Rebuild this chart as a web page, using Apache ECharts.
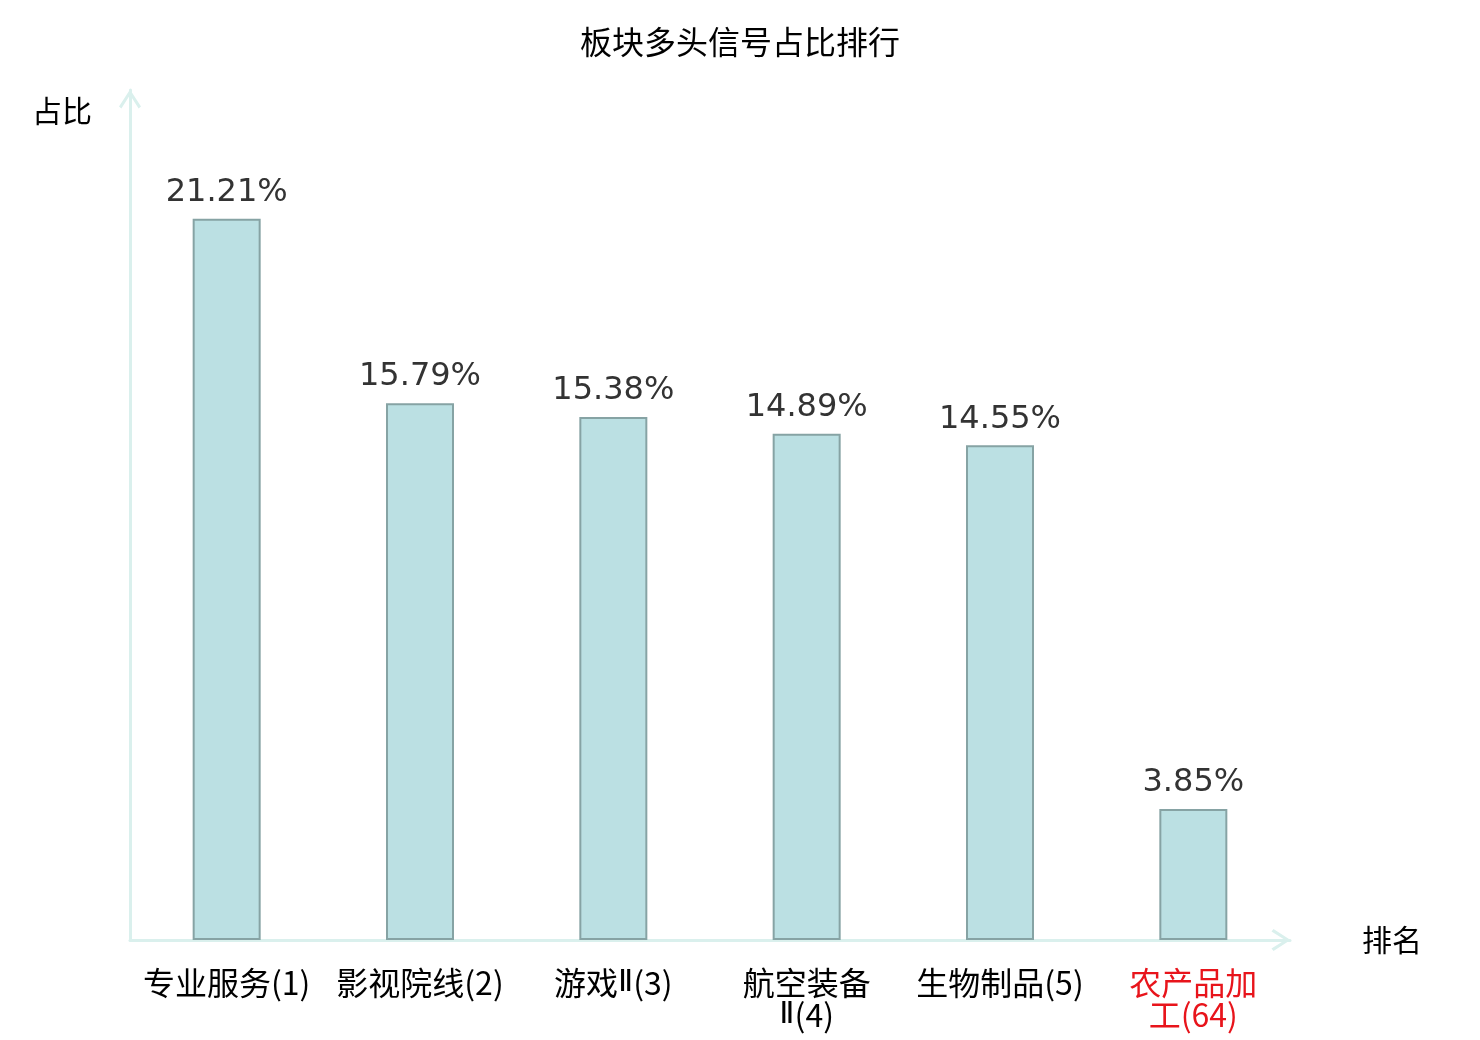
<!DOCTYPE html>
<html>
<head>
<meta charset="utf-8">
<script src="https://cdn.jsdelivr.net/npm/echarts@6/dist/echarts.min.js"></script>
<style>
html, body { margin: 0; padding: 0; background: #fff; }
#chart { width: 1480px; height: 1040px; }
</style>
</head>
<body>
<div id="chart"></div>
<script>
// 板块排名数据
var categories = ['专业服务(1)', '影视院线(2)', '游戏Ⅱ(3)', '航空装备Ⅱ(4)', '生物制品(5)', '农产品加工(64)'];
var ratios = [21.21, 15.79, 15.38, 14.89, 14.55, 3.85];
var highlightIndex = 5;

var cjkFont = '"Noto Sans CJK SC", sans-serif';
var axisColor = '#daf0ed';
// 空心箭头
var chevron = 'path://M11,0 L22,17 L19.6,19 L11,5.4 L2.4,19 L0,17 Z';

// 名字太长时, 4个字后换行
function wrapName(value) {
    var s = value.length > 7 ? value.slice(0, 4) + '\n' + value.slice(4) : value;
    return s.replace(/Ⅱ/g, '{r|Ⅱ}');
}

var chart = echarts.init(document.getElementById('chart'));
var option = {
    backgroundColor: '#fff',
    animation: false,
    title: {
        text: '板块多头信号占比排行',
        left: 'center',
        top: 21,
        textStyle: {fontFamily: cjkFont, fontSize: 32, fontWeight: 'normal', color: '#000'}
    },
    grid: {left: 130, right: 190, top: 90, bottom: 100},
    xAxis: {
        type: 'category',
        data: categories,
        name: '排名',
        nameLocation: 'end',
        nameGap: 72,
        nameTextStyle: {fontFamily: cjkFont, fontSize: 30, color: '#000'},
        axisLine: {
            lineStyle: {color: axisColor, width: 3},
            symbol: ['none', chevron],
            symbolSize: [22, 19],
            symbolOffset: [0, -9]
        },
        axisTick: {show: false},
        axisLabel: {
            interval: 0,
            margin: 27,
            lineHeight: 32,
            fontFamily: cjkFont,
            fontSize: 32,
            color: function(value, index) {
                return index === highlightIndex ? '#e8141b' : '#000';
            },
            formatter: wrapName,
            rich: {
                r: {fontFamily: '"DejaVu Sans", sans-serif', fontSize: 31, lineHeight: 32}
            }
        }
    },
    yAxis: {
        type: 'value',
        min: 0,
        max: 25,
        name: '占比',
        nameLocation: 'end',
        nameGap: -6,
        nameTextStyle: {
            fontFamily: cjkFont, fontSize: 30, color: '#000',
            align: 'right', verticalAlign: 'top', padding: [0, 38, 0, 0]
        },
        axisLine: {
            show: true,
            lineStyle: {color: axisColor, width: 3},
            symbol: ['none', chevron],
            symbolSize: [22, 19],
            symbolOffset: [0, -9]
        },
        axisTick: {show: false},
        axisLabel: {show: false},
        splitLine: {show: false}
    },
    series: [{
        type: 'bar',
        data: ratios,
        barWidth: 68,
        itemStyle: {color: '#bbe0e3', borderColor: '#86a3a4', borderWidth: 2},
        label: {
            show: true,
            position: 'top',
            distance: 10,
            fontFamily: '"DejaVu Sans", sans-serif',
            fontSize: 32,
            color: '#333',
            formatter: function(p) { return p.value.toFixed(2) + '%'; }
        }
    }]
};
chart.setOption(option);
</script>
</body>
</html>
